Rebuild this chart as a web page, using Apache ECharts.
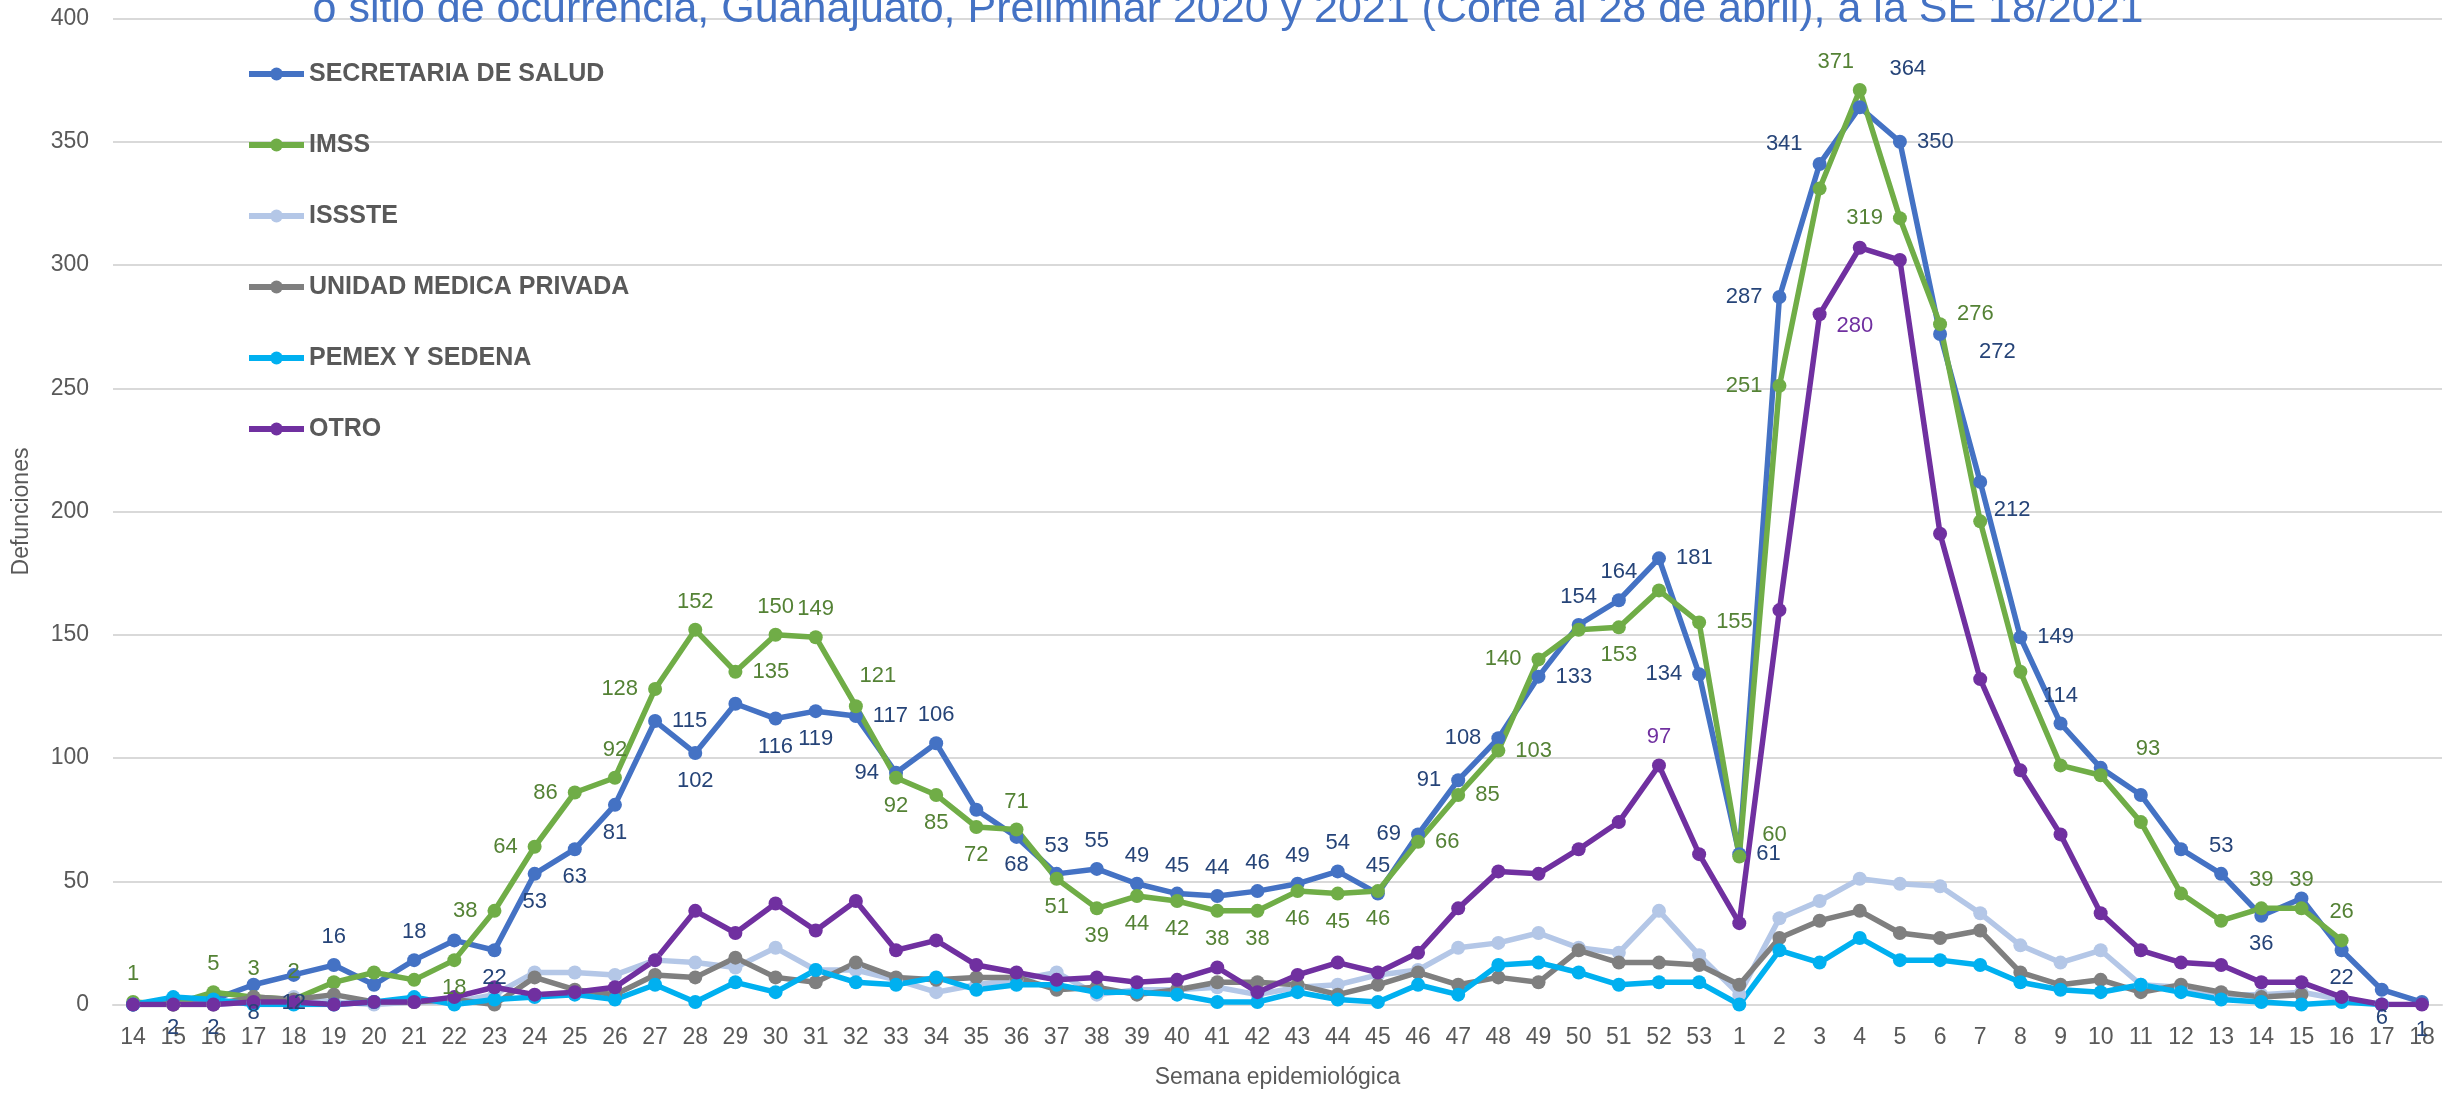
<!DOCTYPE html>
<html>
<head>
<meta charset="utf-8">
<script src="https://cdn.jsdelivr.net/npm/echarts@6/dist/echarts.min.js"></script>
<style>
html,body{margin:0;padding:0;background:#fff;}
#chart{width:2453px;height:1098px;}
</style>
</head>
<body>
<div id="chart"></div>
<script>
// ---- DATA ----
const weeks = ['14','15','16','17','18','19','20','21','22','23','24','25','26','27','28','29','30','31','32','33','34','35','36','37','38','39','40','41','42','43','44','45','46','47','48','49','50','51','52','53',
  '1','2','3','4','5','6','7','8','9','10','11','12','13','14','15','16','17','18'];

const secretariaSalud = [0,2,2,8,12,16,8,18,26,22,53,63,81,115,102,122,116,119,117,94,106,79,68,53,55,49,45,44,46,49,54,45,69,91,108,133,154,164,181,134,
  61,287,341,364,350,272,212,149,114,96,85,63,53,36,43,22,6,1];
const imss = [1,0,5,3,2,9,13,10,18,38,64,86,92,128,152,135,150,149,121,92,85,72,71,51,39,44,42,38,38,46,45,46,66,85,103,140,152,153,168,155,
  60,251,331,371,319,276,196,135,97,93,74,45,34,39,39,26,null,null];
const issste = [0,0,0,1,3,1,0,1,1,4,13,13,12,18,17,15,23,14,14,10,5,8,10,13,4,6,6,7,4,7,8,12,14,23,25,29,23,21,38,20,
  4,35,42,51,49,48,37,24,17,22,8,7,4,4,5,2,0,null];
const unidadPrivada = [0,0,0,3,2,4,1,1,2,0,11,6,4,12,11,19,11,9,17,11,10,11,11,6,7,4,6,9,9,8,4,8,13,8,11,9,22,17,17,16,
  8,27,34,38,29,27,30,13,8,10,5,8,5,3,4,null,null,null];
const pemexSedena = [0,3,2,0,0,0,1,3,0,2,3,4,2,8,1,9,5,14,9,8,11,6,8,8,5,5,4,1,1,5,2,1,8,4,16,17,13,8,9,9,
  0,22,17,27,18,18,16,9,6,5,8,5,2,1,0,1,0,null];
const otro = [0,0,0,1,1,0,1,1,3,7,4,5,7,18,38,29,41,30,42,22,26,16,13,10,11,9,10,15,5,12,17,13,21,39,54,53,63,74,97,61,
  33,160,280,307,302,191,132,95,69,37,22,17,16,9,9,3,0,0];

// label placement (null = no label shown)
const ssLabelPos = [null,'bottom','bottom','bottom','bottom','top',null,'top',null,'bottom','bottom','bottom','bottom','right','bottom',null,'bottom','bottom','right','left','top',null,'bottom','top','top','top','top','top','top','top','top','top','left','left','left','right','top','top','right','left',
  'right','left','left','top','right','right','bottom','right','top',null,null,null,'top','bottom',null,'bottom','bottom','bottom'];
const imssLabelPos = ['top',null,'top','top','top',null,null,null,'bottom','left','left','left','top','left','top','right','top','top','top','bottom','bottom','bottom','top','bottom','bottom','bottom','bottom','bottom','bottom','bottom','bottom','bottom','right','right','right','left',null,'bottom',null,'right',
  'right','left',null,'top','left','right',null,null,null,'right',null,null,null,'top','top','top',null,null];
const otroLabelPos = [];
otroLabelPos[38] = 'top';
otroLabelPos[42] = 'right';

// small nudges of individual labels [dx, dy]
const ssLabelNudge = {42: [0, -20], 43: [48, -10], 45: [22, 18], 46: [32, 0]};
const imssLabelNudge = {18: [22, -2], 40: [6, -22], 43: [-24, 0], 45: [0, -10], 49: [18, -26]};
const otroLabelNudge = {42: [0, 12]};

// ---- CHART ----
const FONT = "'Liberation Sans', Arial, sans-serif";
const chart = echarts.init(document.getElementById('chart'), null, {renderer: 'canvas'});

function withLabels(values, positions, nudges, color) {
  return values.map((v, i) => {
    const p = positions[i];
    if (v === null || v === undefined) return null;
    if (!p) return {value: v};
    const lab = {show: true, position: p, color: color, fontSize: 22, fontFamily: FONT, distance: 10};
    if (nudges[i]) lab.offset = nudges[i];
    return {value: v, label: lab};
  });
}

function lineSeries(name, color, data) {
  return {
    name: name,
    type: 'line',
    data: data,
    symbol: 'circle',
    symbolSize: 14,
    lineStyle: {color: color, width: 5.5},
    itemStyle: {color: color},
    label: {show: false},
    emphasis: {disabled: true},
    animation: false
  };
}

const option = {
  backgroundColor: '#ffffff',
  textStyle: {fontFamily: FONT},
  graphic: [{
    type: 'text',
    x: 1228,
    y: 10,
    style: {
      text: 'ó sitio de ocurrencia, Guanajuato, Preliminar 2020 y 2021 (Corte al 28 de abril), a la SE 18/2021',
      fontSize: 43,
      fontFamily: FONT,
      fill: '#4472C4',
      align: 'center',
      verticalAlign: 'middle'
    },
    z: 100
  }],
  legend: {
    orient: 'vertical',
    left: 241,
    top: 54,
    itemWidth: 55,
    itemHeight: 16,
    itemGap: 41,
    lineStyle: {width: 6},
    textStyle: {fontSize: 25, fontWeight: 'bold', color: '#595959', fontFamily: FONT, lineHeight: 30},
    data: ['SECRETARIA DE SALUD','IMSS','ISSSTE','UNIDAD MEDICA PRIVADA','PEMEX Y SEDENA','OTRO']
  },
  grid: {left: 113, right: 11, top: 18.5, bottom: 93.5, containLabel: false},
  xAxis: {
    type: 'category',
    data: weeks,
    boundaryGap: true,
    name: 'Semana epidemiológica',
    nameLocation: 'middle',
    nameGap: 62,
    nameTextStyle: {fontSize: 23, color: '#595959', fontFamily: FONT},
    axisLine: {show: true, lineStyle: {color: '#D9D9D9', width: 2}},
    axisTick: {show: false},
    axisLabel: {interval: 0, fontSize: 23, color: '#595959', margin: 22, fontFamily: FONT}
  },
  yAxis: {
    type: 'value',
    min: 0,
    max: 400,
    interval: 50,
    name: 'Defunciones',
    nameLocation: 'middle',
    nameRotate: 90,
    nameGap: 80,
    nameTextStyle: {fontSize: 23, color: '#595959', fontFamily: FONT},
    axisLine: {show: false},
    axisTick: {show: false},
    axisLabel: {fontSize: 23, color: '#595959', margin: 24, fontFamily: FONT},
    splitLine: {lineStyle: {color: '#D9D9D9', width: 2}}
  },
  series: [
    lineSeries('SECRETARIA DE SALUD', '#4472C4', withLabels(secretariaSalud, ssLabelPos, ssLabelNudge, '#264478')),
    lineSeries('IMSS', '#70AD47', withLabels(imss, imssLabelPos, imssLabelNudge, '#548235')),
    lineSeries('ISSSTE', '#B4C7E7', issste),
    lineSeries('UNIDAD MEDICA PRIVADA', '#7F7F7F', unidadPrivada),
    lineSeries('PEMEX Y SEDENA', '#00B0F0', pemexSedena),
    lineSeries('OTRO', '#7030A0', withLabels(otro, otroLabelPos, otroLabelNudge, '#7030A0'))
  ]
};
chart.setOption(option);
</script>
</body>
</html>
